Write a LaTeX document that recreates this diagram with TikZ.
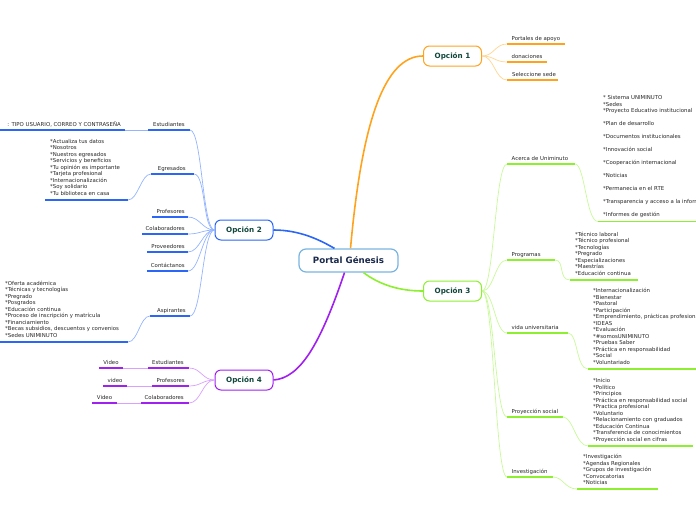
\documentclass[tikz,border=0pt]{standalone}
\usepackage{fontspec}
\setmainfont{DejaVu Sans}
\definecolor{orA}{HTML}{FFA31F}
\definecolor{orL}{HTML}{FFD590}
\definecolor{blA}{HTML}{2B66F6}
\definecolor{blL}{HTML}{94B4FF}
\definecolor{puA}{HTML}{A020F0}
\definecolor{puL}{HTML}{D9A0FF}
\definecolor{grA}{HTML}{8CF030}
\definecolor{grL}{HTML}{C8F998}
\definecolor{cenB}{HTML}{78B4E0}
\definecolor{txt}{HTML}{262626}
\definecolor{optxt}{HTML}{10463A}
\definecolor{centxt}{HTML}{1A2A4C}
\begin{document}
\begin{tikzpicture}[x=1pt,y=-1pt,
  every node/.style={inner sep=0pt,text=txt},
  lbl/.style={font=\fontsize{5.4}{6.5}\selectfont},
  lst/.style={font=\fontsize{5.4}{6.5}\selectfont,align=left,anchor=south west,text depth=0pt},
  optbox/.style={draw=#1,line width=1pt,rounded corners=6pt,fill=white,minimum width=58pt,minimum height=20pt,font=\bfseries\fontsize{7.2}{8}\selectfont,text=optxt},
  central/.style={draw=cenB,line width=1.2pt,rounded corners=7pt,fill=white,minimum width=99pt,minimum height=23pt,font=\bfseries\fontsize{8.7}{10}\selectfont,text=centxt},
  mainconn/.style={draw=#1,line width=1.6pt},
  subconn/.style={draw=#1,line width=0.7pt},
  ul/.style={draw=#1,line width=1.3pt}]
\useasboundingbox (0,0) rectangle (696,520);
\clip (0,0) rectangle (696,520);

% ---------- main nodes ----------
\node[central] (c) at (348.5,260.5) {Portal Génesis};
\node[optbox=orA] (o1) at (452.5,56) {Opción 1};
\node[optbox=blA] (o2) at (244,230) {Opción 2};
\node[optbox=grA] (o3) at (452.5,291) {Opción 3};
\node[optbox=puA] (o4) at (244,380) {Opción 4};

% ---------- main connectors ----------
\draw[mainconn=orA] ([xshift=2pt]c.north) .. controls (362,120) and (385,56) .. (o1.west);
\draw[mainconn=blA] ([xshift=-14pt]c.north) .. controls (320,240) and (300,230) .. (o2.east);
\draw[mainconn=puA] ([xshift=-4pt]c.south) .. controls (320,345) and (300,378) .. (o4.east);
\draw[mainconn=grA] ([xshift=15pt]c.south) .. controls (380,285) and (400,291) .. (o3.west);

% ---------- Opción 1 ----------
\coordinate (a1l) at (507,44); \coordinate (a1r) at (565,44);
\coordinate (a2l) at (507,62); \coordinate (a2r) at (547,62);
\coordinate (a3l) at (507,80); \coordinate (a3r) at (558,80);
\node[lbl,anchor=base west] (a1) at (511.5,40) {Portales de apoyo};
\node[lbl,anchor=base west] (a2) at (511.5,58) {donaciones};
\node[lbl,anchor=base west] (a3) at (512,76) {Seleccione sede};
\foreach \k in {a1,a2,a3}{
  \draw[subconn=orL] (o1.east) .. controls +(12,0) and +(-12,0) .. (\k l);
  \draw[ul=orA] (\k l) -- (\k r);
}

% ---------- Opción 2 ----------
\coordinate (b1l) at (148,130); \coordinate (b1r) at (190,130);
\coordinate (b2l) at (151,174); \coordinate (b2r) at (194,174);
\coordinate (b3l) at (152,217); \coordinate (b3r) at (188,217);
\coordinate (b4l) at (142,234); \coordinate (b4r) at (188,234);
\coordinate (b5l) at (147,252); \coordinate (b5r) at (188,252);
\coordinate (b6l) at (147,271); \coordinate (b6r) at (188,271);
\coordinate (b7l) at (150,316); \coordinate (b7r) at (190,316);
\node[lbl,anchor=base east] (b1) at (185,126) {Estudiantes};
\node[lbl,anchor=base east] (b2) at (186,170) {Egresados};
\node[lbl,anchor=base east] (b3) at (185,213) {Profesores};
\node[lbl,anchor=base east] (b4) at (185,230) {Colaboradores};
\node[lbl,anchor=base east] (b5) at (185,248) {Proveedores};
\node[lbl,anchor=base east] (b6) at (185,267) {Contáctanos};
\node[lbl,anchor=base east] (b7) at (186,312) {Aspirantes};
\foreach \k in {b1,b2,b3,b4,b5,b6,b7}{
  \draw[subconn=blL] (o2.west) .. controls +(-12,0) and +(12,0) .. (\k r);
  \draw[ul=blA] (\k l) -- (\k r);
}
% Estudiantes child
\coordinate (b1al) at (0,130); \coordinate (b1ar) at (125,130);
\node[lbl,anchor=base east] (b1a) at (121,126) {: TIPO USUARIO, CORREO Y CONTRASEÑA};
\draw[subconn=blL] (b1l) -- (b1ar);
\draw[ul=blA] (b1al) -- (b1ar);
% Egresados child
\coordinate (b2al) at (45,200); \coordinate (b2ar) at (128,200);
\node[lst] (b2a) at (50,195.5) {*Actualiza tus datos\\*Nosotros\\*Nuestros egresados\\*Servicios y beneficios\\*Tu opinión es importante\\*Tarjeta profesional\\*Internacionalización\\*Soy solidario\\*Tu biblioteca en casa};
\draw[subconn=blL] (b2l) .. controls +(-10,0) and +(10,0) .. (b2ar);
\draw[ul=blA] (b2al) -- (b2ar);
% Aspirantes child
\coordinate (b7al) at (0,342); \coordinate (b7ar) at (128,342);
\node[lst] (b7a) at (5,337.5) {*Oferta académica\\*Técnicas y tecnologías\\*Pregrado\\*Posgrados\\*Educación continua\\*Proceso de inscripción y matrícula\\*Financiamiento\\*Becas subsidios, descuentos y convenios\\*Sedes UNIMINUTO};
\draw[subconn=blL] (b7l) .. controls +(-10,0) and +(10,0) .. (b7ar);
\draw[ul=blA] (b7al) -- (b7ar);

% ---------- Opción 4 ----------
\coordinate (d1l) at (148,368); \coordinate (d1r) at (189,368);
\coordinate (d2l) at (152,386); \coordinate (d2r) at (189,386);
\coordinate (d3l) at (141,403); \coordinate (d3r) at (189,403);
\node[lbl,anchor=base east] (d1) at (184,364) {Estudiantes};
\node[lbl,anchor=base east] (d2) at (185,382) {Profesores};
\node[lbl,anchor=base east] (d3) at (184,399) {Colaboradores};
\coordinate (d1al) at (99,368);  \coordinate (d1ar) at (123,368);
\coordinate (d2al) at (103,386); \coordinate (d2ar) at (127,386);
\coordinate (d3al) at (92,403);  \coordinate (d3ar) at (117,403);
\node[lbl,anchor=base] (d1a) at (111,364) {Video};
\node[lbl,anchor=base] (d2a) at (115,382) {video};
\node[lbl,anchor=base] (d3a) at (104.5,399) {Video};
\foreach \k in {d1,d2,d3}{
  \draw[subconn=puL] (o4.west) .. controls +(-12,0) and +(12,0) .. (\k r);
  \draw[ul=puA] (\k l) -- (\k r);
  \draw[subconn=puL] (\k l) -- (\k ar);
  \draw[ul=puA] (\k al) -- (\k ar);
}

% ---------- Opción 3 ----------
\coordinate (e1l) at (507,164); \coordinate (e1r) at (575,164);
\coordinate (e2l) at (507,260); \coordinate (e2r) at (555,260);
\coordinate (e3l) at (507,333); \coordinate (e3r) at (568,333);
\coordinate (e4l) at (507,417); \coordinate (e4r) at (563,417);
\coordinate (e5l) at (507,477); \coordinate (e5r) at (553,477);
\node[lbl,anchor=base west] (e1) at (511.5,160) {Acerca de Uniminuto};
\node[lbl,anchor=base west] (e2) at (511.5,256) {Programas};
\node[lbl,anchor=base west] (e3) at (511.5,329) {vida universitaria};
\node[lbl,anchor=base west] (e4) at (511.5,413) {Proyección social};
\node[lbl,anchor=base west] (e5) at (511.5,473) {Investigación};
\foreach \k in {e1,e2,e3,e4,e5}{
  \draw[subconn=grL] (o3.east) .. controls +(12,0) and +(-12,0) .. (\k l);
  \draw[ul=grA] (\k l) -- (\k r);
}
\coordinate (e1al) at (598,221.5); \coordinate (e1ar) at (696,221.5);
\coordinate (e2al) at (570,280);   \coordinate (e2ar) at (638,280);
\coordinate (e3al) at (588,369);   \coordinate (e3ar) at (696,369);
\coordinate (e4al) at (588,446);   \coordinate (e4ar) at (693,446);
\coordinate (e5al) at (577,489);   \coordinate (e5ar) at (658,489);
\node[lst] (e1a) at (603,217) {* Sistema UNIMINUTO\\*Sedes\\*Proyecto Educativo institucional\\[6.5pt]*Plan de desarrollo\\[6.5pt]*Documentos institucionales\\[6.5pt]*Innovación social\\[6.5pt]*Cooperación internacional\\[6.5pt]*Noticias\\[6.5pt]*Permanecia en el RTE\\[6.5pt]*Transparencia y acceso a la información\\[6.5pt]*Informes de gestión};
\node[lst] (e2a) at (575,275.3) {*Técnico laboral\\*Técnico profesional\\*Tecnologías\\*Pregrado\\*Especializaciones\\*Maestrías\\*Educación continua};
\node[lst] (e3a) at (593,364.5) {*Internacionalización\\*Bienestar\\*Pastoral\\*Participación\\*Emprendimiento, prácticas profesionales\\*IDEAS\\*Evaluación\\*\#somosUNIMINUTO\\*Pruebas Saber\\*Práctica en responsabilidad\\*Social\\*Voluntariado};
\node[lst] (e4a) at (593,441.5) {*Inicio\\*Político\\*Principios\\*Práctica en responsabilidad social\\*Practica profesional\\*Voluntario\\*Relacionamiento con graduados\\*Educación Continua\\*Transferencia de conocimientos\\*Proyección social en cifras};
\node[lst] (e5a) at (583,485) {*Investigación\\*Agendas Regionales\\*Grupos de investigación\\*Convocatorias\\*Noticias};
\foreach \k in {e1,e2,e3,e4,e5}{
  \draw[subconn=grL] (\k r) .. controls +(10,0) and +(-12,0) .. (\k al);
  \draw[ul=grA] (\k al) -- (\k ar);
}
\end{tikzpicture}
\end{document}
